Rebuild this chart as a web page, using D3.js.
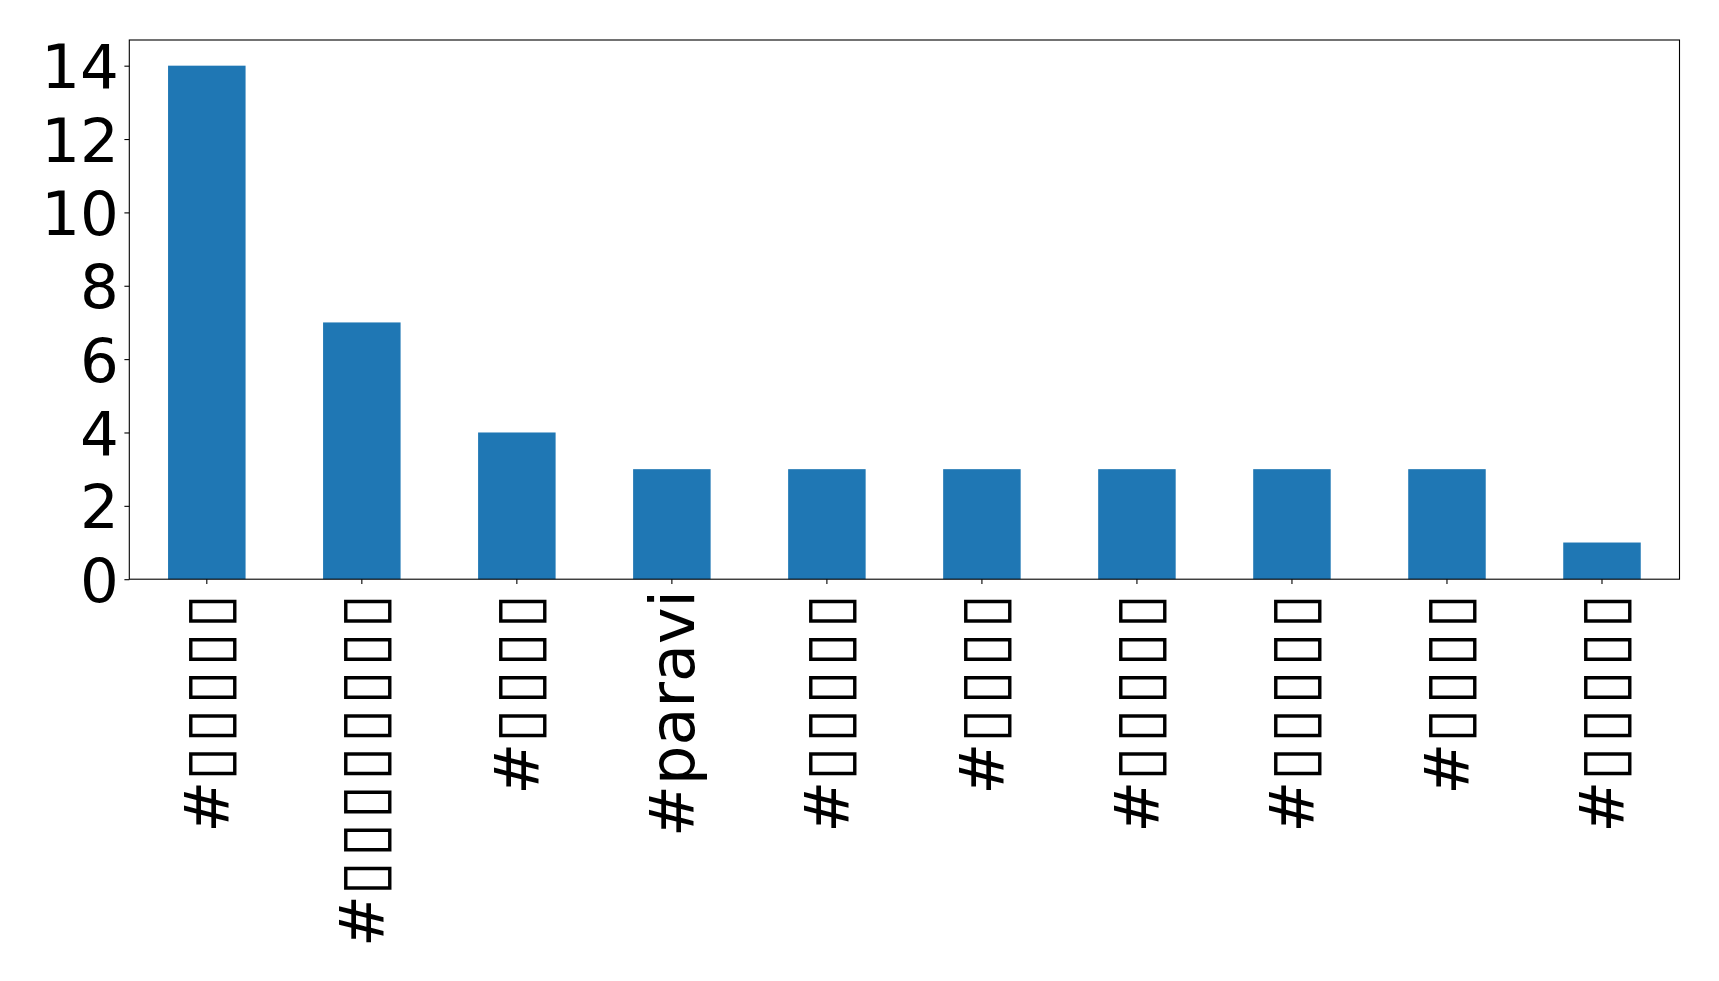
<!DOCTYPE html>
<html>
<head>
<meta charset="utf-8">
<script src="https://cdn.jsdelivr.net/npm/d3@7"></script>
<style>
  html, body { margin: 0; padding: 0; background: #fff; }
  svg { display: block; }
  text { font-family: "DejaVu Sans", sans-serif; fill: #000; }
</style>
</head>
<body>
<div id="chart"></div>
<script>
// Japanese hashtags rendered as missing-glyph boxes in the original; shown with ▯ placeholders
const categories = ["#▯▯▯▯▯", "#▯▯▯▯▯▯▯▯", "#▯▯▯▯", "#paravi", "#▯▯▯▯▯", "#▯▯▯▯", "#▯▯▯▯▯", "#▯▯▯▯▯", "#▯▯▯▯", "#▯▯▯▯▯"];
const values = [14, 7, 4, 3, 3, 3, 3, 3, 3, 1];
const yTicks = [0, 2, 4, 6, 8, 10, 12, 14];

const W = 1719, H = 981;
const margin = { left: 129.3, right: W - 1679.5, top: 40, bottom: H - 579.2 };
const fontSize = 61;
const xFontSize = 62;

const svg = d3.select("#chart").append("svg").attr("width", W).attr("height", H);

const x = d3.scaleBand().domain(categories.map((d, i) => i))
  .range([margin.left, W - margin.right]).paddingInner(0.5).paddingOuter(0.25);
const y = d3.scaleLinear().domain([0, 14 * 1.05]).range([H - margin.bottom, margin.top]);

svg.append("g").selectAll("rect").data(values).join("rect")
  .attr("x", (d, i) => x(i))
  .attr("width", x.bandwidth())
  .attr("y", d => y(d))
  .attr("height", d => y(0) - y(d))
  .attr("fill", "#1f77b4");

// frame
svg.append("rect")
  .attr("x", margin.left).attr("y", margin.top)
  .attr("width", W - margin.right - margin.left)
  .attr("height", H - margin.bottom - margin.top)
  .attr("fill", "none").attr("stroke", "#000").attr("stroke-width", 1.1);

// y axis
const yAxis = d3.axisLeft(y).tickValues(yTicks).tickSize(4.9).tickPadding(5.5).tickFormat(d3.format("d"));
const gy = svg.append("g").attr("transform", `translate(${margin.left},0)`).call(yAxis);
gy.select(".domain").remove();
gy.selectAll("line").attr("stroke", "#000").attr("stroke-width", 1.1);
gy.selectAll("text").attr("font-size", fontSize).attr("font-family", "DejaVu Sans").attr("dy", "0.36em");

// x axis
const xAxis = d3.axisBottom(x).tickSize(4.9).tickPadding(0).tickFormat(i => categories[i]);
const gx = svg.append("g").attr("transform", `translate(0,${H - margin.bottom})`).call(xAxis);
gx.select(".domain").remove();
gx.selectAll("line").attr("stroke", "#000").attr("stroke-width", 1.1);
gx.selectAll("text")
  .attr("font-size", xFontSize).attr("font-family", "DejaVu Sans")
  .attr("text-anchor", "end")
  .attr("dy", null)
  .attr("dominant-baseline", "central")
  .attr("transform", "translate(0,11) rotate(-90)")
  .attr("y", 0).attr("x", 0)
  .each(function(i) {
    const t = d3.select(this);
    const label = categories[i];
    t.text(null);
    // split into runs of placeholder boxes vs. other characters
    const runs = label.match(/▯+|[^▯]+/g);
    runs.forEach(r => {
      const ts = t.append("tspan").text(r);
      if (r[0] === "▯") ts.attr("letter-spacing", "4px");
    });
  });
</script>
</body>
</html>
